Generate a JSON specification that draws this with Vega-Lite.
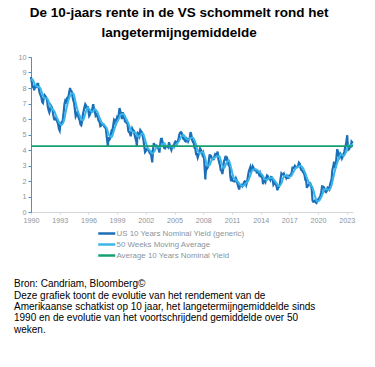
{
  "$schema": "https://vega.github.io/schema/vega-lite/v6.json",
  "background": "white",
  "padding": {"left": 5, "top": 5, "right": 5, "bottom": 5},
  "title": {
    "text": ["De 10-jaars rente in de VS schommelt rond het", "langetermijngemiddelde"],
    "font": "Liberation Sans", "fontSize": 13.5, "fontWeight": "bold", "color": "black",
    "anchor": "middle", "lineHeight": 20, "offset": 14, "dx": -2
  },
  "datasets": {
    "yield": [
      {"t":1990.00,"value":8.72},{"t":1990.08,"value":8.39},{"t":1990.17,"value":8.08},{"t":1990.25,"value":8.09},{"t":1990.33,"value":7.85},{"t":1990.42,"value":8.11},{"t":1990.50,"value":8.04},{"t":1990.58,"value":8.07},{"t":1990.67,"value":8.28},{"t":1990.75,"value":8.27},{"t":1990.83,"value":7.90},{"t":1990.92,"value":7.65},
      {"t":1991.00,"value":7.53},{"t":1991.08,"value":7.42},{"t":1991.17,"value":7.09},{"t":1991.25,"value":7.03},{"t":1991.33,"value":7.34},{"t":1991.42,"value":7.54},{"t":1991.50,"value":7.48},{"t":1991.58,"value":7.39},{"t":1991.67,"value":7.26},{"t":1991.75,"value":6.84},{"t":1991.83,"value":6.59},{"t":1991.92,"value":6.42},
      {"t":1992.00,"value":6.59},{"t":1992.08,"value":6.87},{"t":1992.17,"value":6.77},{"t":1992.25,"value":6.60},{"t":1992.33,"value":6.26},{"t":1992.42,"value":5.98},{"t":1992.50,"value":5.97},{"t":1992.58,"value":6.04},{"t":1992.67,"value":5.96},{"t":1992.75,"value":5.81},{"t":1992.83,"value":5.68},{"t":1992.92,"value":5.36},
      {"t":1993.00,"value":5.25},{"t":1993.08,"value":5.72},{"t":1993.17,"value":5.77},{"t":1993.25,"value":5.75},{"t":1993.33,"value":5.97},{"t":1993.42,"value":6.48},{"t":1993.50,"value":6.97},{"t":1993.58,"value":7.18},{"t":1993.67,"value":7.10},{"t":1993.75,"value":7.30},{"t":1993.83,"value":7.24},{"t":1993.92,"value":7.46},
      {"t":1994.00,"value":7.74},{"t":1994.08,"value":8.00},{"t":1994.17,"value":7.81},{"t":1994.25,"value":7.78},{"t":1994.33,"value":7.47},{"t":1994.42,"value":7.20},{"t":1994.50,"value":7.06},{"t":1994.58,"value":6.63},{"t":1994.67,"value":6.17},{"t":1994.75,"value":6.28},{"t":1994.83,"value":6.49},{"t":1994.92,"value":6.20},
      {"t":1995.00,"value":6.04},{"t":1995.08,"value":5.93},{"t":1995.17,"value":5.65},{"t":1995.25,"value":5.60},{"t":1995.33,"value":5.81},{"t":1995.42,"value":6.27},{"t":1995.50,"value":6.51},{"t":1995.58,"value":6.74},{"t":1995.67,"value":6.95},{"t":1995.75,"value":6.87},{"t":1995.83,"value":6.64},{"t":1995.92,"value":6.83},
      {"t":1996.00,"value":6.53},{"t":1996.08,"value":6.20},{"t":1996.17,"value":6.30},{"t":1996.25,"value":6.58},{"t":1996.33,"value":6.42},{"t":1996.42,"value":6.69},{"t":1996.50,"value":6.95},{"t":1996.58,"value":6.71},{"t":1996.67,"value":6.49},{"t":1996.75,"value":6.22},{"t":1996.83,"value":6.30},{"t":1996.92,"value":6.21},
      {"t":1997.00,"value":6.03},{"t":1997.08,"value":5.88},{"t":1997.17,"value":5.81},{"t":1997.25,"value":5.54},{"t":1997.33,"value":5.57},{"t":1997.42,"value":5.65},{"t":1997.50,"value":5.64},{"t":1997.58,"value":5.65},{"t":1997.67,"value":5.50},{"t":1997.75,"value":5.46},{"t":1997.83,"value":5.34},{"t":1997.92,"value":4.81},
      {"t":1998.00,"value":4.40},{"t":1998.04,"value":4.20},{"t":1998.08,"value":4.83},{"t":1998.17,"value":4.65},{"t":1998.25,"value":4.72},{"t":1998.33,"value":5.00},{"t":1998.42,"value":5.23},{"t":1998.50,"value":5.18},{"t":1998.58,"value":5.54},{"t":1998.67,"value":5.90},{"t":1998.75,"value":5.79},{"t":1998.83,"value":5.94},{"t":1998.92,"value":5.92},
      {"t":1999.00,"value":6.11},{"t":1999.08,"value":6.03},{"t":1999.17,"value":6.28},{"t":1999.25,"value":6.70},{"t":1999.33,"value":6.52},{"t":1999.42,"value":6.26},{"t":1999.50,"value":5.99},{"t":1999.58,"value":6.44},{"t":1999.67,"value":6.10},{"t":1999.75,"value":6.05},{"t":1999.83,"value":5.83},{"t":1999.92,"value":5.80},
      {"t":2000.00,"value":5.74},{"t":2000.08,"value":5.72},{"t":2000.17,"value":5.24},{"t":2000.25,"value":5.16},{"t":2000.33,"value":5.10},{"t":2000.42,"value":4.89},{"t":2000.50,"value":5.14},{"t":2000.58,"value":5.39},{"t":2000.67,"value":5.28},{"t":2000.75,"value":5.24},{"t":2000.83,"value":4.97},{"t":2000.92,"value":4.73},
      {"t":2001.00,"value":4.57},{"t":2001.06,"value":4.25},{"t":2001.10,"value":4.70},{"t":2001.17,"value":5.09},{"t":2001.25,"value":5.04},{"t":2001.33,"value":4.91},{"t":2001.42,"value":5.28},{"t":2001.50,"value":5.21},{"t":2001.58,"value":5.16},{"t":2001.67,"value":4.93},{"t":2001.75,"value":4.65},{"t":2001.83,"value":4.26},{"t":2001.92,"value":3.87},
      {"t":2002.00,"value":3.94},{"t":2002.08,"value":4.05},{"t":2002.17,"value":4.03},{"t":2002.25,"value":4.05},{"t":2002.33,"value":3.90},{"t":2002.42,"value":3.81},{"t":2002.50,"value":3.96},{"t":2002.58,"value":3.57},{"t":2002.67,"value":3.20},{"t":2002.75,"value":3.98},{"t":2002.83,"value":4.45},{"t":2002.92,"value":4.27},
      {"t":2003.00,"value":4.29},{"t":2003.08,"value":4.30},{"t":2003.17,"value":4.27},{"t":2003.25,"value":4.15},{"t":2003.33,"value":4.08},{"t":2003.42,"value":3.83},{"t":2003.50,"value":4.35},{"t":2003.58,"value":4.72},{"t":2003.67,"value":4.73},{"t":2003.75,"value":4.50},{"t":2003.83,"value":4.28},{"t":2003.92,"value":4.13},
      {"t":2004.00,"value":4.10},{"t":2004.08,"value":4.19},{"t":2004.17,"value":4.23},{"t":2004.25,"value":4.22},{"t":2004.33,"value":4.17},{"t":2004.42,"value":4.50},{"t":2004.50,"value":4.34},{"t":2004.58,"value":4.14},{"t":2004.67,"value":4.00},{"t":2004.75,"value":4.18},{"t":2004.83,"value":4.26},{"t":2004.92,"value":4.20},
      {"t":2005.00,"value":4.46},{"t":2005.08,"value":4.54},{"t":2005.17,"value":4.47},{"t":2005.25,"value":4.42},{"t":2005.33,"value":4.57},{"t":2005.42,"value":4.72},{"t":2005.50,"value":4.99},{"t":2005.58,"value":5.11},{"t":2005.67,"value":5.15},{"t":2005.75,"value":5.09},{"t":2005.83,"value":4.88},{"t":2005.92,"value":4.72},
      {"t":2006.00,"value":4.73},{"t":2006.08,"value":4.60},{"t":2006.17,"value":4.56},{"t":2006.25,"value":4.76},{"t":2006.33,"value":4.72},{"t":2006.42,"value":4.56},{"t":2006.50,"value":4.69},{"t":2006.58,"value":4.75},{"t":2006.67,"value":5.15},{"t":2006.75,"value":5.00},{"t":2006.83,"value":4.67},{"t":2006.92,"value":4.52},
      {"t":2007.00,"value":4.53},{"t":2007.08,"value":4.15},{"t":2007.17,"value":4.10},{"t":2007.25,"value":3.74},{"t":2007.33,"value":3.74},{"t":2007.42,"value":3.51},{"t":2007.50,"value":3.68},{"t":2007.58,"value":3.88},{"t":2007.67,"value":4.10},{"t":2007.75,"value":4.01},{"t":2007.83,"value":3.89},{"t":2007.92,"value":3.69},
      {"t":2008.00,"value":3.81},{"t":2008.08,"value":3.53},{"t":2008.17,"value":2.60},{"t":2008.22,"value":2.10},{"t":2008.25,"value":2.50},{"t":2008.33,"value":2.87},{"t":2008.42,"value":2.82},{"t":2008.50,"value":2.93},{"t":2008.58,"value":3.29},{"t":2008.67,"value":3.72},{"t":2008.75,"value":3.56},{"t":2008.83,"value":3.59},{"t":2008.92,"value":3.40},
      {"t":2009.00,"value":3.39},{"t":2009.08,"value":3.40},{"t":2009.17,"value":3.59},{"t":2009.25,"value":3.73},{"t":2009.33,"value":3.69},{"t":2009.42,"value":3.73},{"t":2009.50,"value":3.90},{"t":2009.58,"value":3.42},{"t":2009.67,"value":3.20},{"t":2009.75,"value":3.01},{"t":2009.83,"value":2.70},{"t":2009.92,"value":2.65},
      {"t":2010.00,"value":2.45},{"t":2010.08,"value":2.76},{"t":2010.17,"value":3.29},{"t":2010.25,"value":3.39},{"t":2010.33,"value":3.62},{"t":2010.42,"value":3.41},{"t":2010.50,"value":3.46},{"t":2010.58,"value":3.17},{"t":2010.67,"value":3.00},{"t":2010.75,"value":3.00},{"t":2010.83,"value":2.30},{"t":2010.92,"value":1.98},
      {"t":2011.00,"value":2.15},{"t":2011.08,"value":2.01},{"t":2011.17,"value":1.98},{"t":2011.25,"value":1.97},{"t":2011.33,"value":1.97},{"t":2011.42,"value":2.17},{"t":2011.50,"value":2.05},{"t":2011.58,"value":1.80},{"t":2011.67,"value":1.62},{"t":2011.75,"value":1.45},{"t":2011.83,"value":1.68},{"t":2011.92,"value":1.72},
      {"t":2012.00,"value":1.75},{"t":2012.08,"value":1.65},{"t":2012.17,"value":1.72},{"t":2012.25,"value":1.91},{"t":2012.33,"value":1.98},{"t":2012.42,"value":1.96},{"t":2012.50,"value":1.76},{"t":2012.58,"value":1.93},{"t":2012.67,"value":2.30},{"t":2012.75,"value":2.58},{"t":2012.83,"value":2.74},{"t":2012.92,"value":2.90},
      {"t":2013.00,"value":2.62},{"t":2013.08,"value":2.72},{"t":2013.17,"value":2.95},{"t":2013.25,"value":2.86},{"t":2013.33,"value":2.71},{"t":2013.42,"value":2.72},{"t":2013.50,"value":2.71},{"t":2013.58,"value":2.56},{"t":2013.67,"value":2.60},{"t":2013.75,"value":2.54},{"t":2013.83,"value":2.42},{"t":2013.92,"value":2.53},
      {"t":2014.00,"value":2.30},{"t":2014.08,"value":2.33},{"t":2014.17,"value":2.21},{"t":2014.25,"value":1.80},{"t":2014.33,"value":1.98},{"t":2014.42,"value":2.04},{"t":2014.50,"value":1.94},{"t":2014.58,"value":2.20},{"t":2014.67,"value":2.36},{"t":2014.75,"value":2.32},{"t":2014.83,"value":2.17},{"t":2014.92,"value":2.17},
      {"t":2015.00,"value":2.07},{"t":2015.08,"value":2.26},{"t":2015.17,"value":2.24},{"t":2015.25,"value":2.09},{"t":2015.33,"value":1.78},{"t":2015.42,"value":1.89},{"t":2015.50,"value":1.81},{"t":2015.58,"value":1.81},{"t":2015.67,"value":1.64},{"t":2015.75,"value":1.40},{"t":2015.83,"value":1.56},{"t":2015.92,"value":1.63},
      {"t":2016.00,"value":1.76},{"t":2016.08,"value":2.14},{"t":2016.17,"value":2.49},{"t":2016.25,"value":2.43},{"t":2016.33,"value":2.42},{"t":2016.42,"value":2.48},{"t":2016.50,"value":2.30},{"t":2016.58,"value":2.30},{"t":2016.67,"value":2.19},{"t":2016.75,"value":2.32},{"t":2016.83,"value":2.21},{"t":2016.92,"value":2.20},
      {"t":2017.00,"value":2.36},{"t":2017.08,"value":2.35},{"t":2017.17,"value":2.40},{"t":2017.25,"value":2.58},{"t":2017.33,"value":2.86},{"t":2017.42,"value":2.84},{"t":2017.50,"value":2.87},{"t":2017.58,"value":2.98},{"t":2017.67,"value":2.91},{"t":2017.75,"value":2.89},{"t":2017.83,"value":2.89},{"t":2017.92,"value":3.00},
      {"t":2018.00,"value":3.18},{"t":2018.08,"value":3.12},{"t":2018.17,"value":2.83},{"t":2018.25,"value":2.71},{"t":2018.33,"value":2.68},{"t":2018.42,"value":2.57},{"t":2018.50,"value":2.53},{"t":2018.58,"value":2.40},{"t":2018.67,"value":2.07},{"t":2018.75,"value":2.06},{"t":2018.83,"value":1.55},{"t":2018.92,"value":1.70},
      {"t":2019.00,"value":1.71},{"t":2019.08,"value":1.81},{"t":2019.17,"value":1.86},{"t":2019.25,"value":1.76},{"t":2019.33,"value":1.50},{"t":2019.42,"value":0.75},{"t":2019.50,"value":0.66},{"t":2019.58,"value":0.67},{"t":2019.67,"value":0.73},{"t":2019.75,"value":0.62},{"t":2019.83,"value":0.58},{"t":2019.92,"value":0.68},
      {"t":2020.00,"value":0.79},{"t":2020.08,"value":0.87},{"t":2020.17,"value":0.93},{"t":2020.25,"value":1.08},{"t":2020.33,"value":1.26},{"t":2020.42,"value":1.65},{"t":2020.50,"value":1.64},{"t":2020.58,"value":1.62},{"t":2020.67,"value":1.52},{"t":2020.75,"value":1.32},{"t":2020.83,"value":1.28},{"t":2020.92,"value":1.37},
      {"t":2021.00,"value":1.58},{"t":2021.08,"value":1.56},{"t":2021.17,"value":1.47},{"t":2021.25,"value":1.76},{"t":2021.33,"value":1.93},{"t":2021.42,"value":2.13},{"t":2021.50,"value":2.75},{"t":2021.58,"value":2.90},{"t":2021.67,"value":3.25},{"t":2021.75,"value":2.90},{"t":2021.83,"value":2.90},{"t":2021.92,"value":3.52},
      {"t":2022.00,"value":4.05},{"t":2022.08,"value":3.89},{"t":2022.17,"value":3.62},{"t":2022.25,"value":3.53},{"t":2022.33,"value":3.75},{"t":2022.42,"value":3.66},{"t":2022.50,"value":3.46},{"t":2022.58,"value":3.57},{"t":2022.67,"value":3.75},{"t":2022.75,"value":3.90},{"t":2022.83,"value":4.17},{"t":2022.92,"value":4.38},
      {"t":2023.00,"value":4.75},{"t":2023.05,"value":4.95},{"t":2023.08,"value":4.50},{"t":2023.17,"value":4.02},{"t":2023.25,"value":4.06},{"t":2023.33,"value":4.21},{"t":2023.42,"value":4.21},{"t":2023.50,"value":4.54},{"t":2023.58,"value":4.48},{"t":2023.64,"value":4.45}
    ],
    "ma": [
      {"t":1990.00,"value":8.55},{"t":1990.17,"value":8.55},{"t":1990.42,"value":8.21},{"t":1990.67,"value":8.08},{"t":1990.92,"value":8.04},
      {"t":1991.17,"value":7.65},{"t":1991.42,"value":7.33},{"t":1991.67,"value":7.34},{"t":1991.92,"value":7.00},
      {"t":1992.17,"value":6.68},{"t":1992.42,"value":6.51},{"t":1992.67,"value":6.14},{"t":1992.92,"value":5.81},
      {"t":1993.17,"value":5.62},{"t":1993.42,"value":5.84},{"t":1993.67,"value":6.58},{"t":1993.92,"value":7.21},
      {"t":1994.17,"value":7.59},{"t":1994.42,"value":7.66},{"t":1994.67,"value":7.05},{"t":1994.92,"value":6.47},
      {"t":1995.17,"value":6.11},{"t":1995.42,"value":5.90},{"t":1995.67,"value":6.32},{"t":1995.92,"value":6.75},
      {"t":1996.17,"value":6.56},{"t":1996.42,"value":6.45},{"t":1996.67,"value":6.63},{"t":1996.92,"value":6.47},
      {"t":1997.17,"value":6.08},{"t":1997.42,"value":5.75},{"t":1997.67,"value":5.60},{"t":1997.92,"value":5.40},
      {"t":1998.17,"value":4.94},{"t":1998.42,"value":4.83},{"t":1998.67,"value":5.26},{"t":1998.92,"value":5.71},
      {"t":1999.17,"value":6.01},{"t":1999.42,"value":6.31},{"t":1999.67,"value":6.33},{"t":1999.92,"value":6.04},
      {"t":2000.17,"value":5.73},{"t":2000.42,"value":5.31},{"t":2000.67,"value":5.16},{"t":2000.92,"value":5.13},
      {"t":2001.17,"value":4.88},{"t":2001.42,"value":4.93},{"t":2001.67,"value":5.09},{"t":2001.92,"value":4.68},
      {"t":2002.17,"value":4.14},{"t":2002.42,"value":3.97},{"t":2002.67,"value":3.77},{"t":2002.92,"value":3.93},
      {"t":2003.17,"value":4.26},{"t":2003.42,"value":4.16},{"t":2003.67,"value":4.31},{"t":2003.92,"value":4.45},
      {"t":2004.17,"value":4.24},{"t":2004.42,"value":4.24},{"t":2004.67,"value":4.23},{"t":2004.92,"value":4.19},
      {"t":2005.17,"value":4.35},{"t":2005.42,"value":4.53},{"t":2005.67,"value":4.82},{"t":2005.92,"value":4.99},
      {"t":2006.17,"value":4.77},{"t":2006.42,"value":4.66},{"t":2006.67,"value":4.77},{"t":2006.92,"value":4.79},
      {"t":2007.17,"value":4.50},{"t":2007.42,"value":3.96},{"t":2007.67,"value":3.78},{"t":2007.92,"value":3.88},
      {"t":2008.17,"value":3.56},{"t":2008.42,"value":3.00},{"t":2008.67,"value":3.03},{"t":2008.92,"value":3.42},
      {"t":2009.17,"value":3.49},{"t":2009.42,"value":3.59},{"t":2009.67,"value":3.61},{"t":2009.92,"value":3.14},
      {"t":2010.17,"value":2.83},{"t":2010.42,"value":3.16},{"t":2010.67,"value":3.34},{"t":2010.92,"value":2.82},
      {"t":2011.17,"value":2.24},{"t":2011.42,"value":2.05},{"t":2011.67,"value":1.93},{"t":2011.92,"value":1.73},
      {"t":2012.17,"value":1.68},{"t":2012.42,"value":1.83},{"t":2012.67,"value":1.98},{"t":2012.92,"value":2.36},
      {"t":2013.17,"value":2.73},{"t":2013.42,"value":2.76},{"t":2013.67,"value":2.69},{"t":2013.92,"value":2.56},
      {"t":2014.17,"value":2.39},{"t":2014.42,"value":2.13},{"t":2014.67,"value":2.07},{"t":2014.92,"value":2.20},
      {"t":2015.17,"value":2.21},{"t":2015.42,"value":2.06},{"t":2015.67,"value":1.84},{"t":2015.92,"value":1.66},
      {"t":2016.17,"value":1.85},{"t":2016.42,"value":2.29},{"t":2016.67,"value":2.35},{"t":2016.92,"value":2.25},
      {"t":2017.17,"value":2.31},{"t":2017.42,"value":2.57},{"t":2017.67,"value":2.84},{"t":2017.92,"value":2.93},
      {"t":2018.17,"value":2.98},{"t":2018.42,"value":2.84},{"t":2018.67,"value":2.49},{"t":2018.92,"value":2.07},
      {"t":2019.17,"value":1.80},{"t":2019.42,"value":1.59},{"t":2019.67,"value":1.04},{"t":2019.92,"value":0.67},
      {"t":2020.17,"value":0.76},{"t":2020.42,"value":1.09},{"t":2020.67,"value":1.46},{"t":2020.92,"value":1.46},
      {"t":2021.17,"value":1.43},{"t":2021.42,"value":1.74},{"t":2021.67,"value":2.44},{"t":2021.92,"value":3.02},
      {"t":2022.17,"value":3.47},{"t":2022.42,"value":3.74},{"t":2022.67,"value":3.62},{"t":2022.92,"value":3.87},
      {"t":2023.17,"value":4.30},{"t":2023.42,"value":4.30},{"t":2023.64,"value":4.33}
    ],
    "avg": [{"t": 1990, "t2": 2023.65, "value": 4.25}]
  },
  "vconcat": [
    {
      "width": 322,
      "height": 155,
      "title": {
        "text": [
          "Bron: Candriam, Bloomberg©",
          "Deze grafiek toont de evolutie van het rendement van de",
          "Amerikaanse schatkist op 10 jaar, het langetermijngemiddelde sinds",
          "1990 en de evolutie van het voortschrijdend gemiddelde over 50",
          "weken."
        ],
        "orient": "bottom", "anchor": "start", "font": "Liberation Sans", "fontSize": 10,
        "fontWeight": "normal", "color": "black", "lineHeight": 11.4, "offset": 56, "dx": 9
      },
      "encoding": {
        "x": {
          "field": "t", "type": "quantitative",
          "scale": {"domain": [1990, 2023.65], "nice": false, "zero": false},
          "axis": {
            "title": null, "values": [1990,1993,1996,1999,2002,2005,2008,2011,2014,2017,2020,2023],
            "format": "d", "tickSize": 2, "tickColor": "#d3d8dc", "domainColor": "#d3d8dc",
            "labelPadding": 2, "labelFlush": false, "labelOverlap": false
          }
        },
        "y": {
          "field": "value", "type": "quantitative",
          "scale": {"domain": [0, 10], "nice": false, "zero": true},
          "axis": {
            "title": null, "values": [0,1,2,3,4,5,6,7,8,9,10], "tickSize": 3,
            "tickColor": "#4a8fd0", "domainColor": "#4a8fd0", "labelPadding": 2,
            "minExtent": 26, "maxExtent": 26, "labelOverlap": false
          }
        }
      },
      "layer": [
        {
          "data": {"name": "yield"},
          "mark": {"type": "line", "strokeWidth": 2.2},
          "encoding": {
            "color": {
              "datum": "US 10 Years Nominal Yield (generic)",
              "scale": {
                "domain": ["US 10 Years Nominal Yield (generic)", "50 Weeks Moving Average", "Average 10 Years Nominal Yield"],
                "range": ["#1b6fb6", "#38b6ec", "#16a070"]
              },
              "legend": {
                "title": null, "orient": "none", "legendX": 70.75, "legendY": 171.5, "direction": "vertical",
                "symbolType": "M-2.43,0H2.43", "symbolSize": 49, "symbolStrokeWidth": 2.5,
                "labelFontSize": 7.9, "labelColor": "#8a949c", "labelFont": "Liberation Sans",
                "rowPadding": 1, "labelOffset": 4.75
              }
            }
          }
        },
        {
          "data": {"name": "ma"},
          "mark": {"type": "line", "strokeWidth": 2, "interpolate": "monotone"},
          "encoding": {
            "color": {"datum": "50 Weeks Moving Average"}
          }
        },
        {
          "data": {"name": "avg"},
          "mark": {"type": "rule", "strokeWidth": 1.8},
          "encoding": {
            "x2": {"field": "t2"},
            "color": {"datum": "Average 10 Years Nominal Yield"}
          }
        }
      ]
    }
  ],
  "config": {
    "view": {"stroke": null},
    "font": "Liberation Sans",
    "axis": {
      "grid": false, "labelFont": "Liberation Sans", "labelFontSize": 7.2, "labelColor": "#8a949c"
    }
  }
}
